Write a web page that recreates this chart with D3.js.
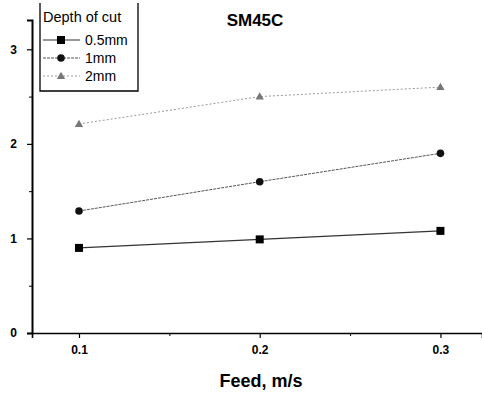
<!DOCTYPE html>
<html>
<head>
<meta charset="utf-8">
<script src="https://cdn.jsdelivr.net/npm/d3@7"></script>
<style>
  body { margin: 0; background: #fff; }
  svg { display: block; font-family: "Liberation Sans", Arial, sans-serif; }
</style>
</head>
<body>
<svg id="chart" width="482" height="393"></svg>
<script>
// data
var feed = [0.1, 0.2, 0.3];
var cut05 = [0.90, 0.99, 1.08];
var cut1 = [1.29, 1.60, 1.90];
var cut2 = [2.21, 2.50, 2.60];
var seriesNames = ['0.5mm', '1mm', '2mm'];
var xTicks = [0.1, 0.2, 0.3];
var yTicks = [0, 1, 2, 3];

var svg = d3.select('#chart');

var x = d3.scaleLinear().domain([0.074, 0.323]).range([32, 482]);
var y = d3.scaleLinear().domain([0, 3.31]).range([333, 20]);

// axes
var xAxis = d3.axisBottom(x).tickValues(xTicks).tickSize(5).tickFormat(d3.format('.1f'));
var gx = svg.append('g').attr('transform', 'translate(0,333)').call(xAxis);
gx.select('.domain').attr('stroke', '#000').attr('stroke-width', 1.6);
gx.selectAll('.tick line').attr('stroke', '#000').attr('stroke-width', 1.2);
gx.selectAll('.tick text').attr('font-size', 12).attr('font-weight', 'bold').attr('dy', '1.1em').attr('fill', '#000');
svg.append('g').attr('transform', 'translate(0,333)')
  .call(d3.axisBottom(x).tickValues([0.15, 0.25]).tickSize(3).tickFormat(''))
  .call(function(g) { g.select('.domain').remove(); g.selectAll('line').attr('stroke', '#000'); });

var yAxis = d3.axisLeft(y).tickValues(yTicks).tickSize(5).tickFormat(d3.format('d'));
var gy = svg.append('g').attr('transform', 'translate(32,0)').call(yAxis);
gy.select('.domain').attr('stroke', '#000').attr('stroke-width', 2);
gy.selectAll('.tick line').attr('stroke', '#000').attr('stroke-width', 1.2);
gy.selectAll('.tick text').attr('font-size', 12).attr('font-weight', 'bold').attr('fill', '#000').attr('x', -15);
svg.append('g').attr('transform', 'translate(32,0)')
  .call(d3.axisLeft(y).tickValues([0.5, 1.5, 2.5]).tickSize(3).tickFormat(''))
  .call(function(g) { g.select('.domain').remove(); g.selectAll('line').attr('stroke', '#000'); });

// lines + markers
var series = [
  { vals: cut05, stroke: '#333', width: 1.2, dash: null, mark: 'square' },
  { vals: cut1, stroke: '#555', width: 1, dash: '3,1', mark: 'circle' },
  { vals: cut2, stroke: '#999', width: 1, dash: '2,2', mark: 'triangle' }
];
var line = d3.line().x(function(d, i) { return x(feed[i]); }).y(function(d) { return y(d); });

function drawMark(g, type, cx, cy) {
  if (type === 'square') {
    g.append('rect').attr('x', cx - 4).attr('y', cy - 4).attr('width', 8).attr('height', 8).attr('fill', '#000');
  } else if (type === 'circle') {
    g.append('circle').attr('cx', cx).attr('cy', cy).attr('r', 3.8).attr('fill', '#111');
  } else {
    g.append('path').attr('d', d3.symbol(d3.symbolTriangle, 30)()).attr('transform', 'translate(' + cx + ',' + (cy + 0.5) + ')').attr('fill', '#777');
  }
}

series.forEach(function(s) {
  svg.append('path').datum(s.vals).attr('d', line).attr('fill', 'none')
    .attr('stroke', s.stroke).attr('stroke-width', s.width).attr('stroke-dasharray', s.dash);
  var g = svg.append('g');
  s.vals.forEach(function(v, i) { drawMark(g, s.mark, x(feed[i]), y(v)); });
});

// title + axis label
svg.append('text').attr('x', 255).attr('y', 26).attr('text-anchor', 'middle')
  .attr('font-size', 17).attr('font-weight', 'bold').text('SM45C');
svg.append('text').attr('x', 261).attr('y', 387).attr('text-anchor', 'middle')
  .attr('font-size', 18).attr('font-weight', 'bold').text('Feed, m/s');

// legend
var lg = svg.append('g');
lg.append('path').attr('d', 'M40,3V91H138V3').attr('fill', 'none').attr('stroke', '#000').attr('stroke-width', 1.3);
lg.append('text').attr('x', 43).attr('y', 22).attr('font-size', 14.5).text('Depth of cut');
series.forEach(function(s, i) {
  var ly = 40 + i * 18;
  lg.append('line').attr('x1', 43).attr('x2', 80).attr('y1', ly).attr('y2', ly)
    .attr('stroke', s.stroke).attr('stroke-width', s.width).attr('stroke-dasharray', s.dash);
  drawMark(lg, s.mark, 61, ly);
  lg.append('text').attr('x', 85).attr('y', ly + 5).attr('font-size', 14).text(seriesNames[i]);
});
</script>
</body>
</html>
